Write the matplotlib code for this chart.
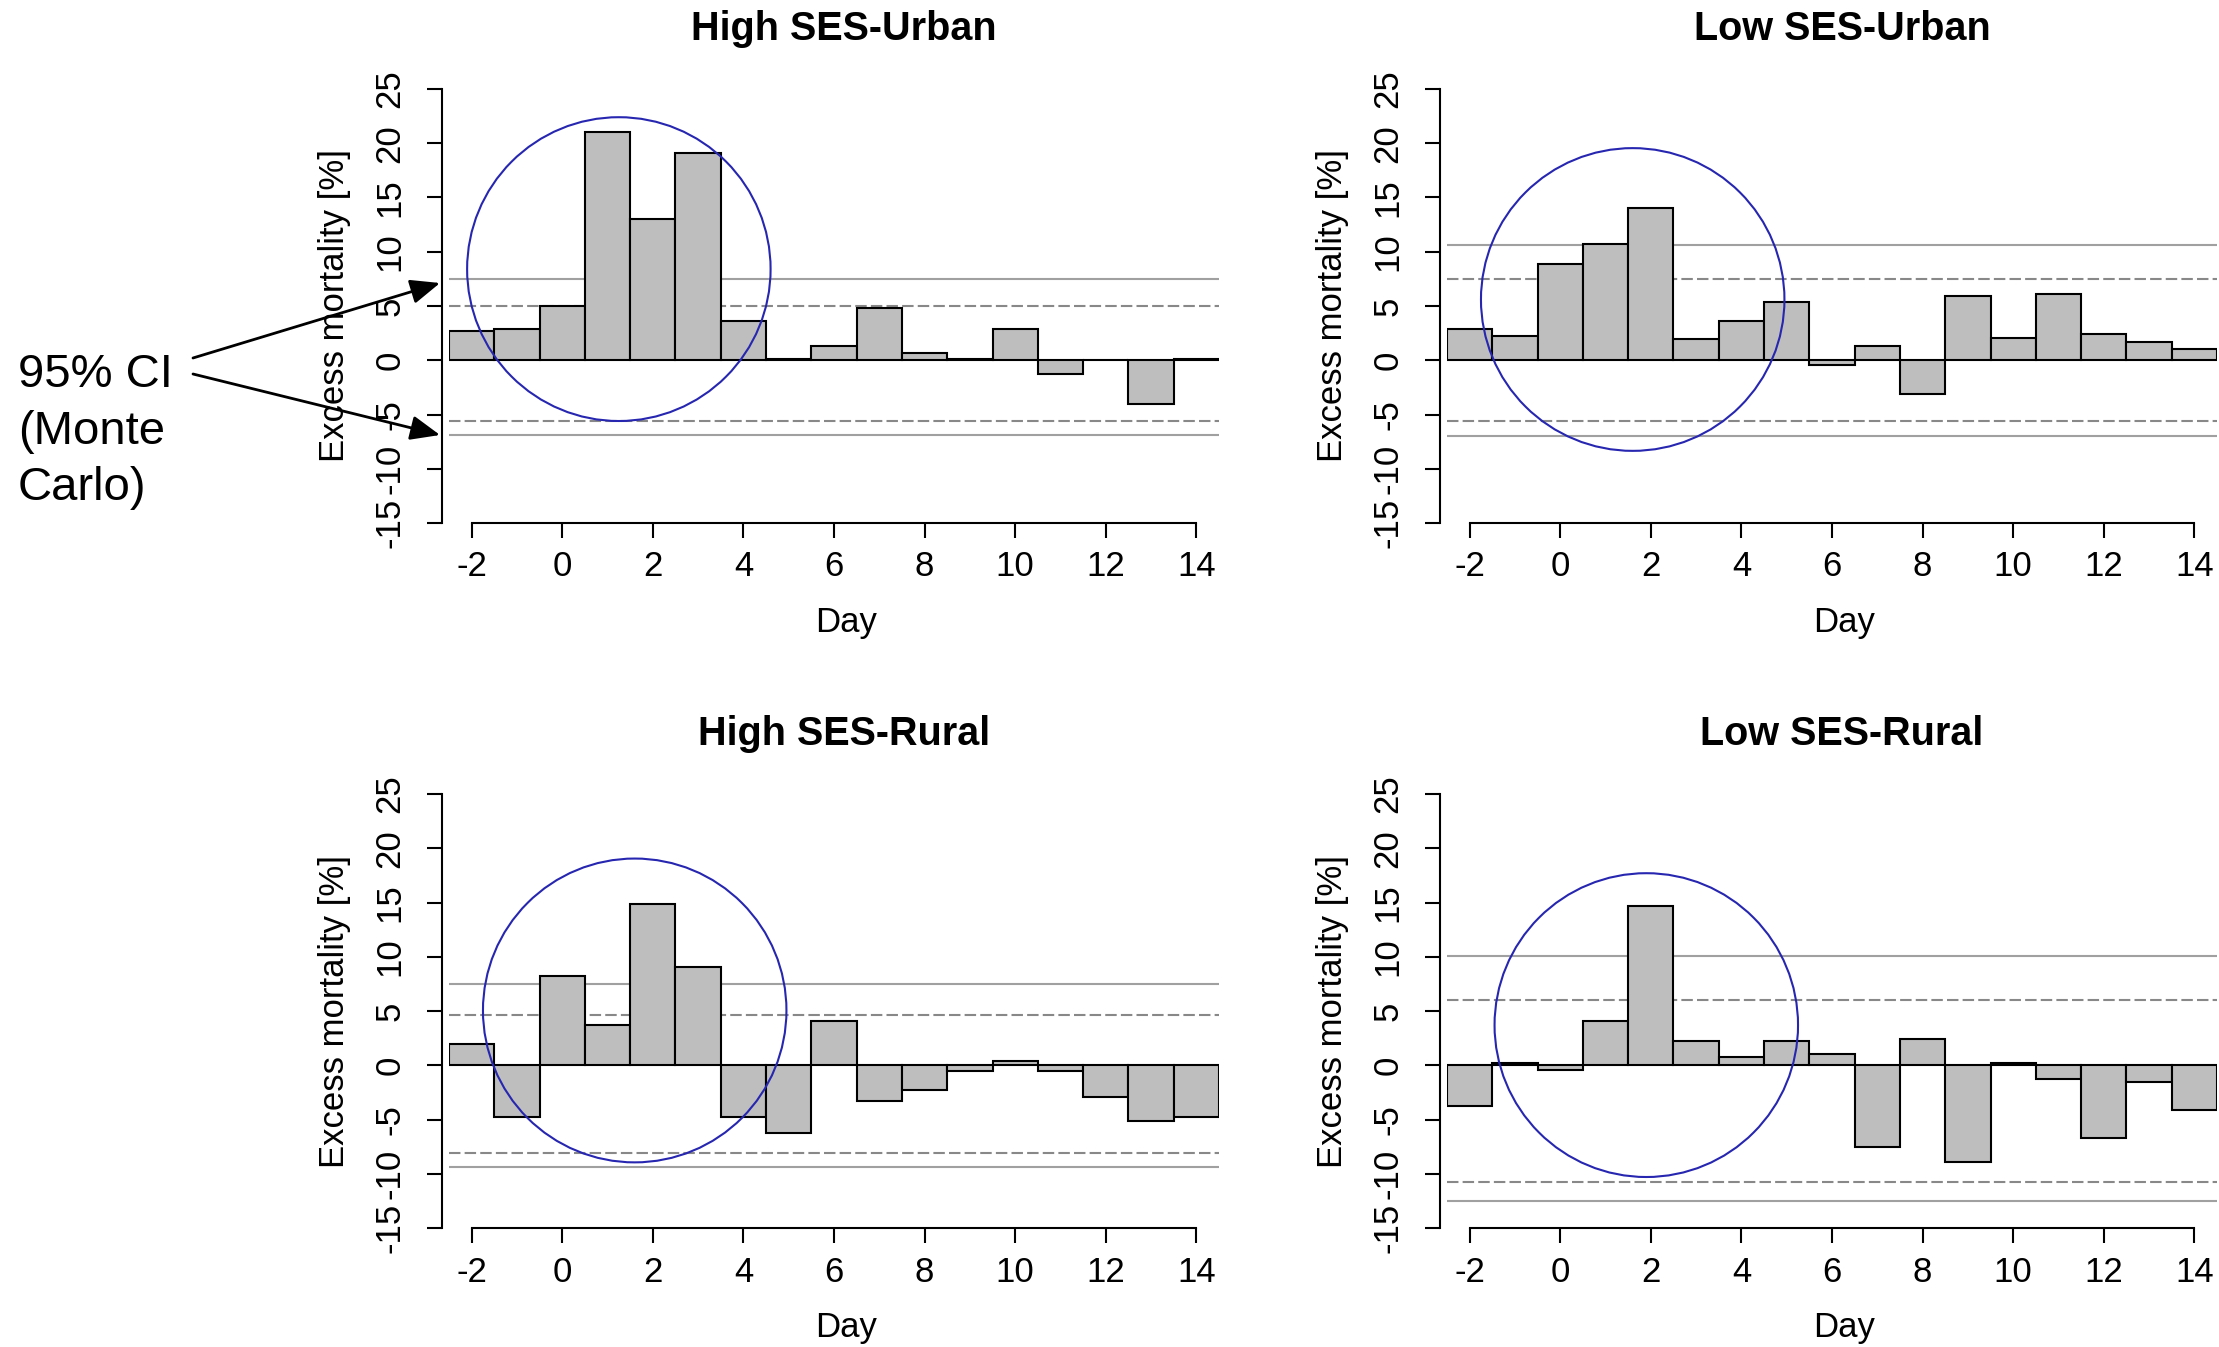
import matplotlib
matplotlib.use("Agg")
import matplotlib.pyplot as plt
from matplotlib.patches import Ellipse, FancyArrowPatch

plt.rcParams["font.family"] = ["Liberation Sans", "DejaVu Sans"]
plt.rcParams["axes.unicode_minus"] = False

# ---- data ----
days = list(range(-2, 15))

titles = ["High SES-Urban", "Low SES-Urban", "High SES-Rural", "Low SES-Rural"]

high_urban = [2.7, 2.9, 5.0, 21.0, 13.0, 19.1, 3.6, 0.15, 1.35, 4.8, 0.7, 0.1, 2.9, -1.3, 0.0, -4.0, 0.1]
low_urban = [2.9, 2.2, 8.85, 10.7, 14.0, 2.0, 3.6, 5.4, -0.4, 1.35, -3.1, 5.95, 2.05, 6.1, 2.4, 1.7, 1.0]
high_rural = [2.0, -4.8, 8.2, 3.7, 14.9, 9.05, -4.8, -6.2, 4.1, -3.3, -2.25, -0.5, 0.35, -0.5, -2.9, -5.1, -4.8]
low_rural = [-3.8, 0.2, -0.4, 4.1, 14.7, 2.2, 0.8, 2.2, 1.0, -7.55, 2.4, -8.9, 0.2, -1.25, -6.7, -1.55, -4.1]

# Monte Carlo bounds: outer (solid) and inner (dashed)
ci_outer_hi = [7.5, 10.6, 7.5, 10.05]
ci_inner_hi = [5.0, 7.5, 4.6, 6.0]
ci_inner_lo = [-5.6, -5.6, -8.1, -10.8]
ci_outer_lo = [-6.9, -7.0, -9.4, -12.5]

# hand-drawn highlight circles (centre day, centre %, width days, height %)
circle_x = [1.25, 1.6, 1.6, 1.9]
circle_y = [8.4, 5.6, 5.05, 3.7]
circle_w = [6.7, 6.7, 6.7, 6.7]
circle_h = [28.0, 27.9, 28.0, 28.0]

series = [high_urban, low_urban, high_rural, low_rural]

W, H = 2219, 1347
fig = plt.figure(figsize=(W / 100, H / 100), dpi=100)

# axes boxes in pixels: left, top, width, height
boxes = [
    (449, 89, 770, 434),
    (1447, 89, 770, 434),
    (449, 794, 770, 434),
    (1447, 794, 770, 434),
]

for i, (l, t, w, h) in enumerate(boxes):
    ax = fig.add_axes([l / W, (H - t - h) / H, w / W, h / H])
    ax.bar(days, series[i], width=1.0, color="#bebebe",
           edgecolor="black", linewidth=1.5, zorder=2)

    ax.axhline(ci_outer_hi[i], color="#a0a0a0", lw=1.5, zorder=1)
    ax.axhline(ci_outer_lo[i], color="#a0a0a0", lw=1.5, zorder=1)
    ax.axhline(ci_inner_hi[i], color="#888888", lw=1.5,
               linestyle=(0, (5.5, 2)), zorder=1)
    ax.axhline(ci_inner_lo[i], color="#888888", lw=1.5,
               linestyle=(0, (5.5, 2)), zorder=1)

    ax.add_patch(Ellipse((circle_x[i], circle_y[i]), circle_w[i], circle_h[i],
                         fill=False, ec="#2626b0", lw=1.5, zorder=3,
                         clip_on=False))

    ax.set_xlim(-2.5, 14.5)
    ax.set_ylim(-15, 25)
    for s in ["top", "right"]:
        ax.spines[s].set_visible(False)
    ax.spines["left"].set_position(("outward", 5))
    ax.spines["left"].set_bounds(-15, 25)
    ax.spines["bottom"].set_bounds(-2, 14)
    for s in ["left", "bottom"]:
        ax.spines[s].set_linewidth(1.5)

    ax.set_xticks(range(-2, 15, 2))
    ax.set_yticks(range(-15, 26, 5))
    ax.tick_params(axis="both", length=10.8, width=1.5, labelsize=25)
    ax.tick_params(axis="y", pad=15)
    ax.tick_params(axis="x", pad=9)
    for lab in ax.get_yticklabels():
        lab.set_rotation(90)
        lab.set_va("center")

    ax.text(0.513, 1.139, titles[i], transform=ax.transAxes, ha="center",
            va="center", fontsize=28.5, fontweight="bold")
    ax.set_xlabel("Day", fontsize=25)
    ax.xaxis.set_label_coords(0.516, -0.23)
    ax.xaxis.label.set_va("center")
    ax.set_ylabel("Excess mortality [%]", fontsize=25)
    ax.yaxis.set_label_coords(-0.149, 0.5)
    ax.yaxis.label.set_va("center")

# annotation pointing at the CI lines of the first panel
for k, line in enumerate(["95% CI", "(Monte", "Carlo)"]):
    fig.text(18 / W, 1 - (387 + 56.5 * k) / H, line, fontsize=34,
             ha="left", va="baseline")

for start, end in [((193, 358), (440, 283)), ((193, 374), (440, 435))]:
    arrow = FancyArrowPatch((start[0], H - start[1]), (end[0], H - end[1]),
                            transform=None,
                            arrowstyle="-|>,head_length=0.6,head_width=0.25",
                            mutation_scale=30, lw=2, color="black",
                            shrinkA=0, shrinkB=0)
    fig.add_artist(arrow)

fig.savefig("out.png", dpi=100)
